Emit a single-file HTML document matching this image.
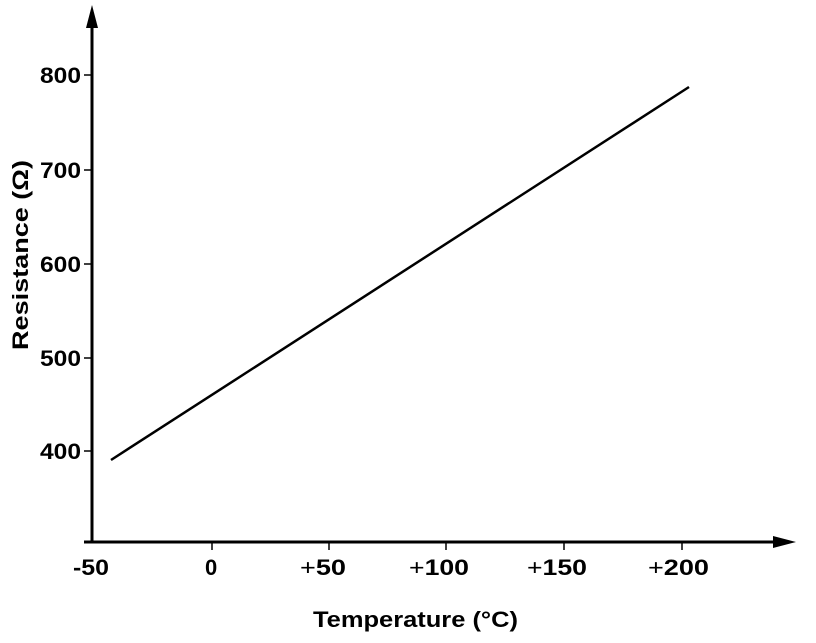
<!DOCTYPE html>
<html><head><style>
html,body{margin:0;padding:0;background:#fff;}
svg text{font-family:"Liberation Sans",sans-serif;font-weight:bold;fill:#000;}
</style></head><body>
<svg width="816" height="638" viewBox="0 0 816 638" xmlns="http://www.w3.org/2000/svg">
<line x1="92" y1="20" x2="92" y2="543" stroke="#000" stroke-width="3"/>
<polygon points="92,5 86,28 98,28" fill="#000"/>
<line x1="84" y1="542" x2="780" y2="542" stroke="#000" stroke-width="3"/>
<polygon points="796,542 773,536 773,548" fill="#000"/>
<g stroke="#000" stroke-width="1.5">
<line x1="84" y1="75" x2="92" y2="75"/><line x1="84" y1="170" x2="92" y2="170"/>
<line x1="84" y1="264" x2="92" y2="264"/><line x1="84" y1="358" x2="92" y2="358"/>
<line x1="84" y1="451" x2="92" y2="451"/>
<line x1="212" y1="542" x2="212" y2="550"/><line x1="329" y1="542" x2="329" y2="550"/>
<line x1="446" y1="542" x2="446" y2="550"/><line x1="564" y1="542" x2="564" y2="550"/>
<line x1="682" y1="542" x2="682" y2="550"/>
</g>
<g font-size="22">
<text x="40" y="83" textLength="41" lengthAdjust="spacingAndGlyphs">800</text>
<text x="40" y="178" textLength="41" lengthAdjust="spacingAndGlyphs">700</text>
<text x="40" y="272" textLength="41" lengthAdjust="spacingAndGlyphs">600</text>
<text x="40" y="366" textLength="41" lengthAdjust="spacingAndGlyphs">500</text>
<text x="40" y="459" textLength="41" lengthAdjust="spacingAndGlyphs">400</text>
</g>
<g font-size="22">
<text x="73" y="575" textLength="36" lengthAdjust="spacingAndGlyphs">-50</text>
<text x="205" y="575">0</text>
<text x="300" y="575" textLength="46" lengthAdjust="spacingAndGlyphs"><tspan font-weight="normal">+</tspan>50</text>
<text x="409" y="575" textLength="60" lengthAdjust="spacingAndGlyphs"><tspan font-weight="normal">+</tspan>100</text>
<text x="527" y="575" textLength="60" lengthAdjust="spacingAndGlyphs"><tspan font-weight="normal">+</tspan>150</text>
<text x="648" y="575" textLength="61" lengthAdjust="spacingAndGlyphs"><tspan font-weight="normal">+</tspan>200</text>
</g>
<line x1="111" y1="460" x2="689" y2="87" stroke="#000" stroke-width="2.5"/>
<text x="313" y="627" font-size="22" textLength="205" lengthAdjust="spacingAndGlyphs">Temperature (°C)</text>
<text transform="translate(28,350) rotate(-90)" font-size="22" textLength="190" lengthAdjust="spacingAndGlyphs">Resistance (Ω)</text>
</svg>
</body></html>
